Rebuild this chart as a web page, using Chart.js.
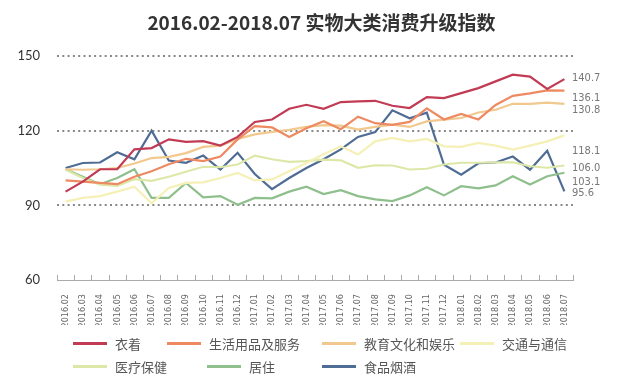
<!DOCTYPE html>
<html>
<head>
<meta charset="utf-8">
<script src="https://cdn.jsdelivr.net/npm/chart.js@4.4.0/dist/chart.umd.min.js"></script>
<style>
  html, body { margin: 0; padding: 0; background: #fff; }
  #wrap { position: relative; width: 643px; height: 378px; }
  #title { position: absolute; left: 0; top: 8px; width: 643px; text-align: center;
           font: bold 19px "Noto Sans CJK SC", sans-serif; color: #333; }
  #legend { position: absolute; left: 0; top: 0; width: 643px; height: 378px; pointer-events: none; }
  .legend-item { position: absolute; display: flex; align-items: center; font: 13px "Noto Sans CJK SC", sans-serif; color: #555; }
  .legend-swatch { width: 34px; height: 3px; margin-right: 8px; }
</style>
</head>
<body>
<div id="wrap">
  <canvas id="chart" width="643" height="378"></canvas>
  <div id="title">2016.02-2018.07 实物大类消费升级指数</div>
  <div id="legend"></div>
</div>
<script>
const months = ['2016.02','2016.03','2016.04','2016.05','2016.06','2016.07','2016.08','2016.09','2016.10','2016.11','2016.12',
  '2017.01','2017.02','2017.03','2017.04','2017.05','2017.06','2017.07','2017.08','2017.09','2017.10','2017.11','2017.12',
  '2018.01','2018.02','2018.03','2018.04','2018.05','2018.06','2018.07'];

const clothing = [95.5, 99.5, 104.5, 104.5, 112.5, 113, 116.5, 115.5, 115.8, 114, 117.5, 123.5, 124.5, 128.8, 130.4,
  128.8, 131.5, 131.8, 132, 130, 129.1, 133.5, 133.1, 135.1, 137.1, 139.8, 142.5, 141.7, 136.8, 140.7];
const household = [100, 99.5, 99, 98.5, 101.5, 103.7, 106.5, 108.7, 107.8, 109.6, 116.5, 121.8, 121.3, 117.5, 121,
  123.8, 120.6, 125.6, 123, 122.3, 123.5, 129, 124.5, 126.7, 124.5, 130.3, 134, 135, 136.2, 136.1];
const education = [104.5, 104.3, 104.5, 105, 106.8, 109, 109.5, 111, 113.5, 114, 116.7, 118.5, 119.5, 120.3, 121.5,
  122.2, 122, 120.4, 121.5, 122.4, 121.5, 123.7, 124.4, 125.1, 127.3, 128.4, 130.8, 130.8, 131.3, 130.8];
const transport = [91.5, 93, 93.7, 95.5, 97.5, 90.8, 97, 99, 99.2, 101, 103, 100, 100.4, 103.7, 107,
  110.5, 113.7, 110.4, 115.7, 117.1, 115.7, 116.7, 113.7, 113.5, 115.1, 114, 112.4, 114, 115.7, 118.1];
const medical = [104.3, 101, 98.3, 97.8, 100.5, 99.8, 101.5, 103.5, 105.5, 105.3, 106.4, 110, 108.5, 107.5, 107.8,
  108.4, 108.1, 105.1, 106.1, 106, 104.4, 104.7, 106.4, 107.1, 107.1, 107.3, 107.3, 105.7, 105.1, 106.0];
const housing = [104.5, 101.5, 98.5, 101, 104.5, 93, 93, 99, 93.2, 93.7, 90.2, 93, 92.8, 95.5, 97.5,
  94.5, 96.1, 93.7, 92.4, 91.7, 94, 97.3, 94, 97.7, 96.8, 98, 101.7, 98.4, 101.7, 103.1];
const food = [105, 107, 107.2, 111.3, 108.5, 120, 108, 107.1, 110, 104.4, 111.1, 102.6, 96.5, 101, 105,
  108.5, 112.5, 117.5, 119.4, 128.2, 125, 127.2, 106.3, 102.3, 106.9, 107.2, 109.6, 104.3, 111.9, 95.6];

const seriesNames = ['衣着', '生活用品及服务', '教育文化和娱乐', '交通与通信', '医疗保健', '居住', '食品烟酒'];
const seriesColors = ['#c23b55', '#ee8a62', '#f1c88e', '#f4f0b6', '#dde8a8', '#8fbf8c', '#4f6c95'];
const seriesData = [clothing, household, education, transport, medical, housing, food];
const yTicks = [60, 90, 120, 150];
// end labels sit a bit off the line ends in the original
const endLabelShift = [-1, 7.5, 6, 16, 3, 9, 2];

const endLabels = {
    id: 'endLabels',
    afterDatasetsDraw(chart) {
        const ctx = chart.ctx;
        ctx.save();
        ctx.font = '11px "DejaVu Sans Condensed", sans-serif';
        ctx.fillStyle = '#777';
        ctx.textBaseline = 'middle';
        chart.data.datasets.forEach((ds, i) => {
            const pts = chart.getDatasetMeta(i).data;
            const p = pts[pts.length - 1];
            ctx.fillText(ds.data[ds.data.length - 1].toFixed(1), chart.chartArea.right - 1, p.y + endLabelShift[i]);
        });
        ctx.restore();
    }
};

// dotted horizontal grid + small upward tick marks between categories
const axisDecor = {
    id: 'axisDecor',
    beforeDatasetsDraw(chart) {
        const y = chart.scales.y, ctx = chart.ctx, area = chart.chartArea;
        ctx.save();
        ctx.strokeStyle = '#888';
        ctx.lineWidth = 2;
        ctx.setLineDash([2, 3.3]);
        yTicks.forEach(v => {
            if (v === y.min) return;
            const py = Math.round(y.getPixelForValue(v));
            ctx.beginPath();
            ctx.moveTo(area.left, py);
            ctx.lineTo(area.right, py);
            ctx.stroke();
        });
        ctx.restore();
    },
    afterDraw(chart) {
        const x = chart.scales.x, ctx = chart.ctx;
        const bottom = chart.chartArea.bottom;
        ctx.save();
        ctx.strokeStyle = '#aaa';
        ctx.lineWidth = 1;
        for (let i = 0; i <= months.length; i++) {
            const px = Math.round(x.getPixelForValue(i - 0.5)) + 0.5;
            ctx.beginPath();
            ctx.moveTo(px, bottom);
            ctx.lineTo(px, bottom - 5);
            ctx.stroke();
        }
        ctx.restore();
    }
};

const chart = new Chart(document.getElementById('chart'), {
    type: 'line',
    data: {
        labels: months,
        datasets: seriesNames.map((name, i) => ({
            label: name,
            data: seriesData[i],
            borderColor: seriesColors[i],
            backgroundColor: seriesColors[i],
            borderWidth: 2.2,
            pointRadius: 0,
            tension: 0,
            fill: false
        }))
    },
    options: {
        responsive: false,
        animation: false,
        layout: { padding: { left: 0, right: 70, top: 56, bottom: 53 } },
        plugins: {
            legend: { display: false },
            tooltip: { enabled: false },
            title: { display: false }
        },
        scales: {
            x: {
                offset: true,
                grid: { display: false },
                border: { display: true, color: '#aaa' },
                ticks: {
                    minRotation: 90,
                    maxRotation: 90,
                    autoSkip: false,
                    padding: 6,
                    color: '#666',
                    font: { family: '"DejaVu Sans Condensed", sans-serif', size: 9 }
                },
                afterFit: (s) => { s.height = 45; }
            },
            y: {
                min: 60,
                max: 150,
                afterBuildTicks: (s) => { s.ticks = yTicks.map(v => ({ value: v })); },
                grid: { display: false },
                border: { display: false },
                ticks: {
                    padding: 9,
                    color: '#333',
                    font: { family: 'Lato, sans-serif', size: 13 }
                },
                afterFit: (s) => { s.width = 57; }
            }
        }
    },
    plugins: [axisDecor, endLabels]
});

// legend laid out like the original (two rows, fixed columns)
const legendPos = [[73, 343], [167, 343], [322, 343], [460, 343], [73, 366], [207, 366], [322, 366]];
const legendBox = document.getElementById('legend');
seriesNames.forEach((name, i) => {
    const item = document.createElement('div');
    item.className = 'legend-item';
    item.style.left = legendPos[i][0] + 'px';
    item.style.top = (legendPos[i][1] - 10) + 'px';
    item.style.height = '20px';
    const sw = document.createElement('div');
    sw.className = 'legend-swatch';
    sw.style.background = seriesColors[i];
    const txt = document.createElement('span');
    txt.textContent = name;
    item.appendChild(sw);
    item.appendChild(txt);
    legendBox.appendChild(item);
});
</script>
</body>
</html>
